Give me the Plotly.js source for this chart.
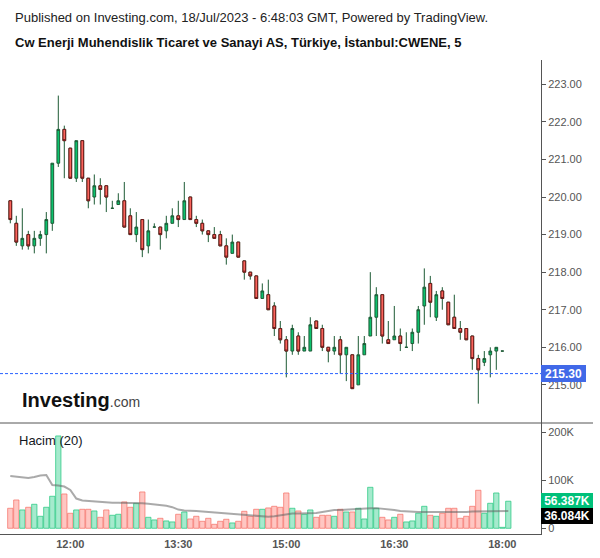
<!DOCTYPE html>
<html><head><meta charset="utf-8">
<script src="https://cdn.plot.ly/plotly-3.0.1.min.js"></script>
<style>html,body{margin:0;padding:0;background:#fff}#chart{width:600px;height:558px}</style>
</head><body><div id="chart"></div>
<script>
const times = ["11:10","11:15","11:20","11:25","11:30","11:35","11:40","11:45","11:50","11:55",
"12:00","12:05","12:10","12:15","12:20","12:25","12:30","12:35","12:40","12:45","12:50","12:55",
"13:00","13:05","13:10","13:15","13:20","13:25","13:30","13:35","13:40","13:45","13:50","13:55",
"14:00","14:05","14:10","14:15","14:20","14:25","14:30","14:35","14:40","14:45","14:50","14:55",
"15:00","15:05","15:10","15:15","15:20","15:25","15:30","15:35","15:40","15:45","15:50","15:55",
"16:00","16:05","16:10","16:15","16:20","16:25","16:30","16:35","16:40","16:45","16:50","16:55",
"17:00","17:05","17:10","17:15","17:20","17:25","17:30","17:35","17:40","17:45","17:50","17:55",
"18:00","18:05"];
const openP = [219.9,219.3,218.7,219.0,218.7,218.9,219.0,219.3,220.9,221.8,221.3,220.5,221.5,220.5,220.0,220.3,220.3,219.7,219.8,219.9,
219.5,219.0,219.4,218.7,219.2,219.2,219.1,219.3,219.5,219.4,220.0,219.4,219.3,219.1,219.0,219.0,218.7,218.5,218.8,218.3,
218.0,217.9,217.3,217.4,217.1,216.5,216.2,215.9,216.3,215.9,215.9,216.7,216.5,216.0,215.9,216.2,215.8,215.8,215.0,215.8,
216.3,216.8,217.4,216.2,216.2,216.3,216.0,216.1,216.4,217.1,217.7,216.8,217.5,217.2,216.8,216.5,216.5,216.3,215.7,215.6,
215.8,215.9,215.9,null];
const highP = [219.9,219.5,219.7,219.1,219.1,219.1,219.6,220.9,222.7,221.9,221.3,221.5,221.5,220.5,220.6,220.5,220.3,219.9,220.1,220.4,
219.7,219.6,219.4,219.4,219.3,219.2,219.5,219.7,219.9,220.4,220.0,219.5,219.4,219.1,219.2,219.1,218.9,219.0,218.8,218.3,
218.0,217.9,217.7,217.8,217.2,216.7,216.3,216.6,216.4,216.3,216.8,216.7,216.6,216.0,216.3,216.3,216.0,215.8,216.3,216.3,
218.0,217.6,217.4,216.7,217.1,216.5,216.4,216.5,217.1,218.1,217.9,217.5,217.6,217.2,217.4,216.7,216.5,216.3,215.8,215.9,
216.0,216.0,215.9,null];
const lowP = [219.3,218.7,218.6,218.6,218.5,218.7,218.5,219.1,220.8,220.5,220.5,220.4,220.4,219.7,219.8,219.8,219.6,219.7,219.8,219.2,
219.0,218.8,218.4,218.5,219.2,218.6,218.9,219.3,219.2,219.4,219.4,219.2,219.0,218.8,218.9,218.7,218.2,218.5,218.4,217.8,
217.8,217.3,217.3,217.0,216.3,216.1,215.2,215.8,215.8,215.9,215.9,216.5,215.9,215.6,215.8,215.3,215.1,214.9,215.0,215.8,
216.3,216.3,216.1,216.1,216.2,215.9,216.0,215.9,216.1,216.6,216.8,216.7,217.0,216.6,216.5,216.2,216.2,215.4,214.5,215.5,
215.2,215.4,215.9,null];
const closeP = [219.4,218.8,218.9,218.7,218.9,219.0,219.4,220.9,221.8,221.5,220.5,221.5,220.5,219.9,220.3,220.2,220.0,219.7,219.9,219.2,
219.0,219.2,218.6,219.1,219.2,219.0,219.3,219.5,219.4,219.9,219.4,219.3,219.1,219.0,218.9,218.7,218.4,218.8,218.4,218.0,
217.9,217.3,217.5,217.0,216.5,216.2,215.9,216.5,215.9,216.0,216.6,216.5,216.0,215.9,216.0,215.8,216.0,214.9,215.8,216.1,
216.8,217.4,216.3,216.1,216.3,216.1,216.0,216.4,217.0,217.6,217.2,217.4,217.3,216.6,216.5,216.4,216.2,215.7,215.4,215.7,
215.9,216.0,215.9,null];
const volumeK = [41.7,59.0,38.2,43.8,50.0,25.0,43.8,66.7,192.4,71.5,31.3,38.2,39.6,39.6,36.1,22.9,38.2,27.1,29.2,54.9,
43.8,52.1,75.7,22.9,17.4,20.8,15.3,13.2,29.2,34.0,19.4,25.0,14.6,20.8,8.3,14.6,18.8,11.1,14.6,35.4,
25.0,39.6,39.6,42.4,45.8,43.8,73.6,41.7,36.1,29.2,38.2,22.9,27.1,27.1,25.0,39.6,34.0,34.0,41.7,19.4,
85.4,41.7,22.9,17.4,22.9,29.2,13.2,15.3,31.3,45.8,27.1,25.0,31.3,41.7,41.7,20.8,25.0,45.8,79.2,31.3,
52.1,73.6,2.0,56.387];
const volumeMA = [109,108,106,105,107,110,111,90,89,87,80,62,58,57,56,54,54,53,53,53,
52,52,52,51,50,49,47,44,39,37,37,36,35,34,33,32,30,29,28,27,
26,25,24,24,25,27,29,31,31,31,31,32,34,36,38,38,39,40,41,41,
42,42,41,40,38,36,35,34,34,34,34,33,33,33,33,34,34,35,35,35,
36,36,36,36.084];
const prevClose = 215.30;
const lastVolume = 56.387;
const lastVolumeMA = 36.084;
const priceTicks = [215,216,217,218,219,220,221,222,223];
const volumeTicks = [0,100,200];
const volumeTickText = ["0","100K","200K"];
const timeTicks = ["12:00","13:30","15:00","16:30","18:00"];

const FONT = "Liberation Sans, Arial, sans-serif";
const GREEN = "#0bc26d", RED = "#fa655c", GREEN_EDGE = "#1d5a35", RED_EDGE = "#6d1a1a";

// bodies of falling candles, re-stroked with a dark red edge
const dnO = openP.map((o,i)=> (o!=null && closeP[i] < o) ? o : null);
const dnC = closeP.map((c,i)=> (c!=null && c < openP[i]) ? c : null);

const volUp = volumeK.map((v,i)=> closeP[i]==null || closeP[i] >= openP[i]);

const traces = [
  { type:"candlestick", x:times, open:openP, high:highP, low:lowP, close:closeP,
    xaxis:"x", yaxis:"y", hoverinfo:"skip", line:{width:1},
    increasing:{line:{color:GREEN_EDGE,width:1}, fillcolor:GREEN},
    decreasing:{line:{color:GREEN_EDGE,width:1}, fillcolor:RED}, whiskerwidth:0 },
  { type:"candlestick", x:times, open:dnO, high:dnO, low:dnC, close:dnC,
    xaxis:"x", yaxis:"y", hoverinfo:"skip", line:{width:1},
    increasing:{line:{color:RED_EDGE,width:1}, fillcolor:RED},
    decreasing:{line:{color:RED_EDGE,width:1}, fillcolor:RED}, whiskerwidth:0 },
  { type:"bar", x:times, y:volumeK, xaxis:"x", yaxis:"y2", hoverinfo:"skip",
    marker:{color:volUp.map(u=>u?"rgba(40,205,135,0.42)":"rgba(255,120,110,0.42)"),
            line:{color:volUp.map(u=>u?"rgba(40,200,130,0.75)":"rgba(245,110,100,0.7)"),width:1}} },
  { type:"scatter", mode:"lines", x:times, y:volumeMA, xaxis:"x", yaxis:"y2", hoverinfo:"skip",
    line:{color:"rgba(100,100,100,0.55)", width:2} }
];

const splitY = 111/474;
const layout = {
  width:600, height:558, margin:{l:0,r:59,t:60,b:24},
  paper_bgcolor:"#fff", plot_bgcolor:"#fff", showlegend:false,
  font:{family:FONT, color:"#555"},
  boxgap:0.35, bargap:0.12,
  xaxis:{type:"category", range:[-1.717, 88.45], anchor:"y2", tickvals:timeTicks, ticktext:timeTicks,
    tickfont:{family:FONT,size:11,color:"#555",weight:"bold"}, showline:true, linecolor:"#555", linewidth:1,
    showgrid:false, zeroline:false, ticks:"", rangeslider:{visible:false}, fixedrange:true},
  yaxis:{domain:[splitY,1], side:"right", anchor:"x", range:[213.985,223.647], tickvals:priceTicks, tickformat:".2f",
    ticks:"outside", ticklen:4, tickcolor:"#555", showline:true, linecolor:"#555", linewidth:1,
    showgrid:false, zeroline:false, tickfont:{family:FONT,size:11,color:"#555"}},
  yaxis2:{domain:[0,splitY], side:"right", anchor:"x", range:[-11.9,219.4], tickvals:volumeTicks, ticktext:volumeTickText,
    ticks:"outside", ticklen:4, tickcolor:"#555", showline:true, linecolor:"#555", linewidth:1,
    showgrid:false, zeroline:false, tickfont:{family:FONT,size:11,color:"#555"}},
  shapes:[
    {type:"line", xref:"paper", yref:"paper", x0:0, x1:593/541, y0:splitY, y1:splitY, line:{color:"#555",width:1}},
    {type:"line", xref:"paper", yref:"y", x0:0, x1:1, y0:prevClose, y1:prevClose, line:{color:"#2962ff",width:1,dash:"3px,2px"}}
  ],
  annotations:[
    {xref:"paper", yref:"paper", x:13/541, y:1+(60-17)/474, xanchor:"left", yanchor:"middle", showarrow:false,
     text:"Published on Investing.com, 18/Jul/2023 - 6:48:03 GMT, Powered by TradingView.",
     font:{family:FONT,size:13,color:"#222"}},
    {xref:"paper", yref:"paper", x:13/541, y:1+(60-42)/474, xanchor:"left", yanchor:"middle", showarrow:false,
     text:"<b>Cw Enerji Muhendislik Ticaret ve Sanayi AS, Türkiye, İstanbul:CWENE, 5</b>",
     font:{family:FONT,size:13,color:"#111"}},
    {xref:"paper", yref:"paper", x:17/541, y:(534-440)/474, xanchor:"left", yanchor:"middle", showarrow:false,
     text:"Hacim (20)", font:{family:FONT,size:13,color:"#131722"}},
    {xref:"paper", yref:"paper", x:20/541, y:(534-400)/474, xanchor:"left", yanchor:"middle", showarrow:false,
     text:"<b>Investing</b><span style='font-size:14px;color:#444'>.com</span>", font:{family:FONT,size:20,color:"#111"}},
    {xref:"paper", yref:"y", x:1, y:prevClose, xanchor:"left", yanchor:"middle", showarrow:false,
     text:"<b>"+prevClose.toFixed(2)+"</b>", bgcolor:"#4169e8", width:43, height:15, borderpad:1, borderwidth:0,
     font:{family:FONT,size:12,color:"#fff"}},
    {xref:"paper", yref:"y2", x:1, y:lastVolume, xanchor:"left", yanchor:"middle", showarrow:false,
     text:"<b>"+lastVolume.toFixed(3)+"K</b>", bgcolor:"#00c07a", width:50, height:14, borderpad:1, borderwidth:0,
     font:{family:FONT,size:12,color:"#fff"}},
    {xref:"paper", yref:"y2", x:1, y:lastVolumeMA, yshift:-5, xanchor:"left", yanchor:"middle", showarrow:false,
     text:"<b>"+lastVolumeMA.toFixed(3)+"K</b>", bgcolor:"#000", width:50, height:14, borderpad:1, borderwidth:0,
     font:{family:FONT,size:12,color:"#fff"}}
  ]
};
Plotly.newPlot("chart", traces, layout, {staticPlot:true, displayModeBar:false});
</script></body></html>
